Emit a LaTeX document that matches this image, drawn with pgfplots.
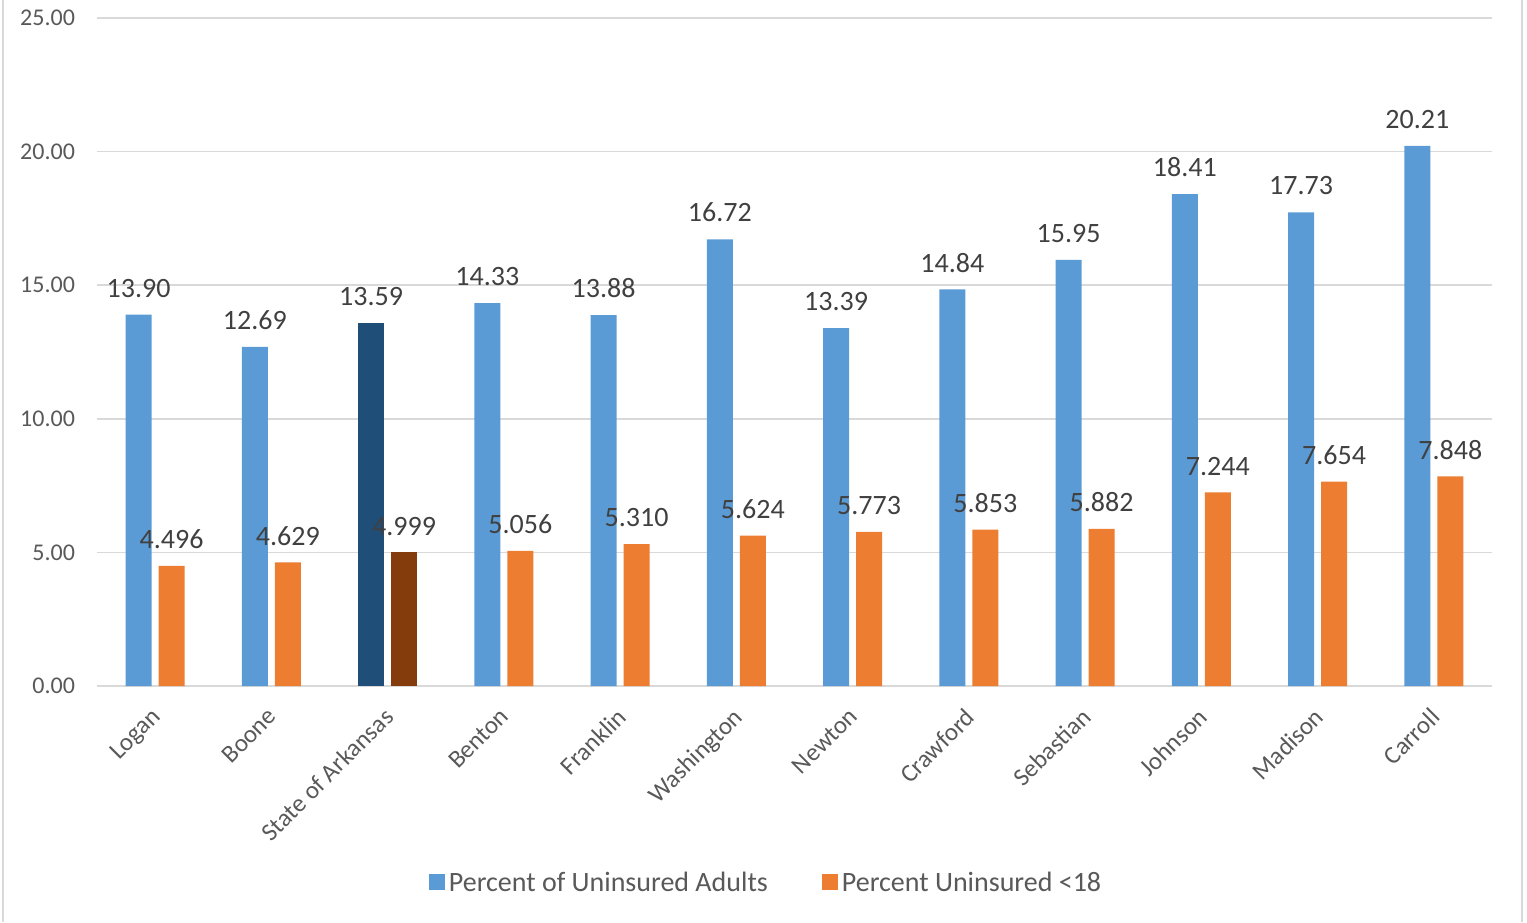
\documentclass[border=0pt]{standalone}
\usepackage{fontspec}
\setmainfont{Carlito}
\usepackage{pgfplots}
\pgfplotsset{compat=1.18}
\definecolor{cblue}{HTML}{5B9BD5}
\definecolor{corange}{HTML}{ED7D31}
\definecolor{dblue}{HTML}{1F4E79}
\definecolor{dorange}{HTML}{843C0C}
\definecolor{txt}{HTML}{595959}
\definecolor{lbl}{HTML}{404040}
\definecolor{gridc}{HTML}{D9D9D9}
\begin{document}
\begin{tikzpicture}
\begin{axis}[
  scale only axis,
  width=697.5pt, height=334pt,
  ymin=0, ymax=25,
  xmin=-0.5, xmax=11.5,
  ytick={0,5,10,15,20,25},
  xtick={0,...,11},
  xticklabels={Logan,Boone,State of Arkansas,Benton,Franklin,Washington,Newton,Crawford,Sebastian,Johnson,Madison,Carroll},
  /pgf/number format/assume math mode=true,
  yticklabel={\pgfmathprintnumber[fixed,fixed zerofill,precision=2]{\tick}},
  yticklabel style={font=\fontsize{12}{14}\selectfont, text=txt, xshift=-7.5pt},
  xticklabel style={font=\fontsize{12.5}{14}\selectfont, text=txt, rotate=45, anchor=north east, xshift=-5.5pt, yshift=-2pt},
  major tick length=0pt,
  ymajorgrids,
  grid style={gridc, line width=0.8pt},
  axis x line*=bottom,
  y axis line style={draw=none},
  x axis line style={gridc, line width=1pt},
  clip=false,
  ybar, bar width=13pt,
  nodes near coords style={font=\fontsize{14}{16}\selectfont, text=lbl, yshift=5pt},
  legend style={at={(rel axis cs:0.4803,-0.2949)}, anchor=center, draw=none, legend columns=2,
    font=\fontsize{14}{16}\selectfont, text=txt, /tikz/every even column/.append style={column sep=25pt}},
  legend image code/.code={\fill[#1] (0pt,-3.5pt) rectangle (8pt,4.5pt);},
]
\addplot[fill=cblue, draw=none, bar shift=-8.25pt,
  nodes near coords={\pgfmathprintnumber[fixed,fixed zerofill,precision=2]{\pgfplotspointmeta}}]
  coordinates {(0,13.90) (1,12.69) (3,14.33) (4,13.88) (5,16.72) (6,13.39) (7,14.84) (8,15.95) (9,18.41) (10,17.73) (11,20.21)};
\addlegendentry{Percent of Uninsured Adults}
\addplot[fill=corange, draw=none, bar shift=8.25pt,
  nodes near coords={\pgfmathprintnumber[fixed,fixed zerofill,precision=3]{\pgfplotspointmeta}}]
  coordinates {(0,4.496) (1,4.629) (3,5.056) (4,5.310) (5,5.624) (6,5.773) (7,5.853) (8,5.882) (9,7.244) (10,7.654) (11,7.848)};
\addlegendentry{Percent Uninsured <18}
\addplot[fill=dblue, draw=none, bar shift=-8.25pt, forget plot,
  nodes near coords={\pgfmathprintnumber[fixed,fixed zerofill,precision=2]{\pgfplotspointmeta}}]
  coordinates {(2,13.59)};
\addplot[fill=dorange, draw=none, bar shift=8.25pt, forget plot,
  nodes near coords={\pgfmathprintnumber[fixed,fixed zerofill,precision=3]{\pgfplotspointmeta}}]
  coordinates {(2,4.999)};
\path[use as bounding box] (rel axis cs:-0.06953,-0.35329) rectangle (rel axis cs:1.02509,1.02695);
\draw[gridc, line width=1.2pt] (rel axis cs:-0.06738,-0.35329) -- (rel axis cs:-0.06738,1.02695);
\draw[gridc, line width=1.2pt] (rel axis cs:1.02151,-0.35329) -- (rel axis cs:1.02151,1.02695);
\end{axis}
\end{tikzpicture}
\end{document}
